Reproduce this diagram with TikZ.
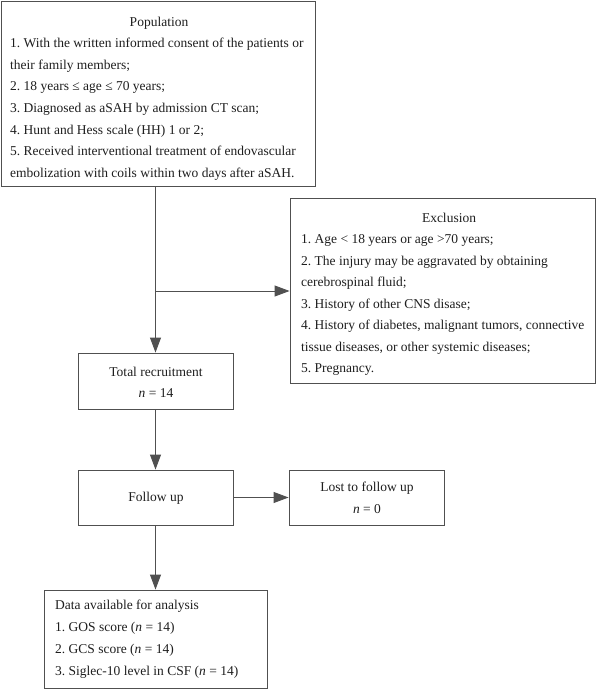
\documentclass[tikz,border=0pt]{standalone}
\usepackage{fontspec}
\setmainfont{Liberation Serif}
\usetikzlibrary{arrows.meta}
\frenchspacing
\definecolor{linecol}{HTML}{505050}
\definecolor{txtcol}{HTML}{1E1E1E}
\tikzset{
  boxn/.style={draw=linecol, line width=0.9pt, rectangle, inner sep=0pt},
  txt/.style={inner sep=0pt, anchor=base west, text=txtcol, font=\fontsize{13.5}{16}\selectfont\frenchspacing},
  ctxt/.style={txt, anchor=base},
  arr/.style={draw=linecol, line width=0.9pt, -{Triangle[length=15pt,width=11pt]}},
  ln/.style={draw=linecol, line width=0.9pt}
}
\begin{document}
\begin{tikzpicture}[x=1pt,y=-1pt]
\useasboundingbox (0,0) rectangle (600,689);
% boxes
\node[boxn, minimum width=314pt, minimum height=185pt] (pop) at (158,93.5) {};
\node[boxn, minimum width=305pt, minimum height=185pt] (excl) at (442.5,290.5) {};
\node[boxn, minimum width=155pt, minimum height=56pt] (tot) at (155.5,381) {};
\node[boxn, minimum width=155pt, minimum height=55pt] (fol) at (155.5,497.5) {};
\node[boxn, minimum width=155pt, minimum height=55pt] (lost) at (366.5,497.5) {};
\node[boxn, minimum width=223pt, minimum height=98pt] (data) at (155.5,639) {};
% population text
\node[ctxt] (pt) at (159,26) {Population};
\node[txt] (p1) at (10,47.6) {1. With the written informed consent of the patients or};
\node[txt] (p2) at (10,69.2) {their family members;};
\node[txt] (p3) at (10,90.8) {2. 18 years ≤ age ≤ 70 years;};
\node[txt] (p4) at (10,112.4) {3. Diagnosed as aSAH by admission CT scan;};
\node[txt] (p5) at (10,134) {4. Hunt and Hess scale (HH) 1 or 2;};
\node[txt] (p6) at (10,155.6) {5. Received interventional treatment of endovascular};
\node[txt] (p7) at (10,177.2) {embolization with coils within two days after aSAH.};
% exclusion text
\node[ctxt] (et) at (449,222) {Exclusion};
\node[txt] (e1) at (301,243.5) {1. Age < 18 years or age >70 years;};
\node[txt] (e2) at (301,265) {2. The injury may be aggravated by obtaining};
\node[txt] (e3) at (301,286.5) {cerebrospinal fluid;};
\node[txt] (e4) at (301,308) {3. History of other CNS disase;};
\node[txt] (e5) at (301,329.5) {4. History of diabetes, malignant tumors, connective};
\node[txt] (e6) at (301,351) {tissue diseases, or other systemic diseases;};
\node[txt] (e7) at (301,372.5) {5. Pregnancy.};
% total
\node[ctxt] (t1) at (156,376) {Total recruitment};
\node[ctxt] (t2) at (156,397) {\textit{n} = 14};
% follow
\node[ctxt] (f1) at (156,501) {Follow up};
% lost
\node[ctxt] (l1) at (367,491) {Lost to follow up};
\node[ctxt] (l2) at (367,513) {\textit{n} = 0};
% data
\node[txt] (d0) at (55,609) {Data available for analysis};
\node[txt] (d1) at (55,631.5) {1. GOS score (\textit{n} = 14)};
\node[txt] (d2) at (55,653) {2. GCS score (\textit{n} = 14)};
\node[txt] (d3) at (55,675) {3. Siglec-10 level in CSF (\textit{n} = 14)};
% connectors
\draw[arr] (pop.south -| tot.north) -- (tot.north);
\coordinate (br) at (155.5,291);
\draw[arr] (br) -- (br -| excl.west);
\draw[arr] (tot.south) -- (fol.north);
\draw[arr] (fol.east) -- (lost.west);
\draw[arr] (fol.south) -- (data.north);
\end{tikzpicture}
\end{document}
